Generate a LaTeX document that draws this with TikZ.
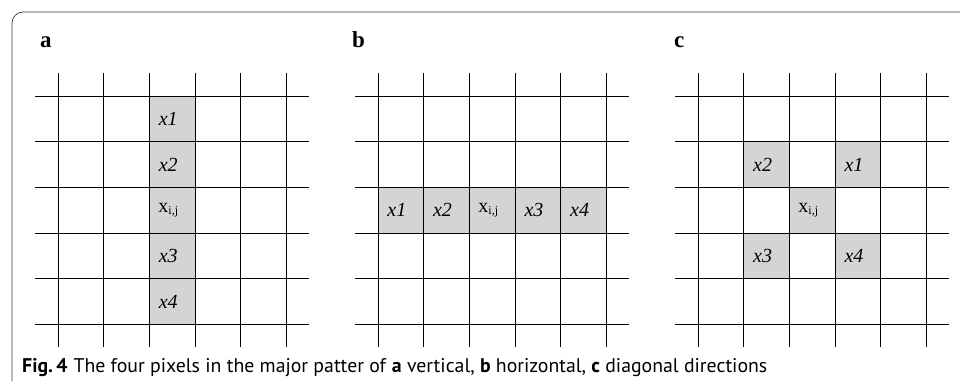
\documentclass[tikz,border=0pt]{standalone}
\usepackage{fontspec}
\setmainfont{Liberation Serif}
\newfontfamily\capfont{PT Sans}
\usepackage{tikz}
\usetikzlibrary{positioning}
\definecolor{pixgray}{HTML}{D3D4D3}
\definecolor{framegray}{HTML}{3A3A3A}
\newcommand{\cs}{45.7}
\newcommand{\xij}{\textup{x}\raisebox{-0.3ex}{\fontsize{12}{12}\selectfont\textup{i,j}}}

\begin{document}
\begin{tikzpicture}[
    x=1pt,y=-1pt,
    pix/.style={fill=pixgray,minimum size=45.7pt,inner sep=0pt,text depth=0pt,font=\itshape\fontsize{20}{20}\selectfont},
    txt/.style={inner sep=0pt,xshift=-4pt,font=\itshape\fontsize{20}{20}\selectfont},
    gridline/.style={draw=black,line width=0.8pt},
    panel/.style={font=\bfseries\fontsize{23}{23}\selectfont,anchor=base west,inner sep=0pt},
    frame/.style={draw=framegray,line width=0.7pt,rounded corners=11pt}
  ]
    \useasboundingbox (0,0) rectangle (960,381);
    \draw[frame] (12,381) -- (12,12) -- (960,12);

    % a: vertical
    \node[panel] (pa) at (40,47) {a};
    \begin{scope}[shift={(58,96)}]
      \foreach \lbl [count=\r from 0] in {x1,x2,\xij,x3,x4}{
        \node[pix] (a-\r) at (2.5*\cs,{(\r+0.5)*\cs}) {};
        \node[txt] at (a-\r) {\lbl};
      }
      \foreach \k in {0,...,5}{
        \draw[gridline] (\k*\cs,-0.5*\cs) -- (\k*\cs,5.5*\cs);
        \draw[gridline] (-0.5*\cs,\k*\cs) -- (5.5*\cs,\k*\cs);
      }
    \end{scope}

    % b: horizontal
    \node[panel,right=312pt of pa.base west,anchor=base west] (pb) {b};
    \begin{scope}[shift={(378,96)}]
      \foreach \lbl [count=\c from 0] in {x1,x2,\xij,x3,x4}{
        \node[pix] (b-\c) at ({(\c+0.5)*\cs},2.5*\cs) {};
        \node[txt] at (b-\c) {\lbl};
      }
      \foreach \k in {0,...,5}{
        \draw[gridline] (\k*\cs,-0.5*\cs) -- (\k*\cs,5.5*\cs);
        \draw[gridline] (-0.5*\cs,\k*\cs) -- (5.5*\cs,\k*\cs);
      }
    \end{scope}

    % c: diagonal
    \node[panel,right=322pt of pb.base west,anchor=base west] (pc) {c};
    \begin{scope}[shift={(698,96)}]
      \node[pix] (c-2) at (1.5*\cs,1.5*\cs) {};
      \node[pix] (c-1) at (3.5*\cs,1.5*\cs) {};
      \node[pix] (c-ij) at (2.5*\cs,2.5*\cs) {};
      \node[pix] (c-3) at (1.5*\cs,3.5*\cs) {};
      \node[pix] (c-4) at (3.5*\cs,3.5*\cs) {};
      \node[txt] at (c-2) {x2};
      \node[txt] at (c-1) {x1};
      \node[txt] at (c-ij) {\xij};
      \node[txt] at (c-3) {x3};
      \node[txt] at (c-4) {x4};
      \foreach \k in {0,...,5}{
        \draw[gridline] (\k*\cs,-0.5*\cs) -- (\k*\cs,5.5*\cs);
        \draw[gridline] (-0.5*\cs,\k*\cs) -- (5.5*\cs,\k*\cs);
      }
    \end{scope}

    \node[anchor=base west,inner sep=0pt,font=\capfont\fontsize{19.8}{19.8}\selectfont] (cap) at (22,372)
      {\textbf{Fig.\,4}\hspace{6pt}The four pixels in the major patter of \textbf{a} vertical, \textbf{b} horizontal, \textbf{c} diagonal directions};
  \end{tikzpicture}
\end{document}
